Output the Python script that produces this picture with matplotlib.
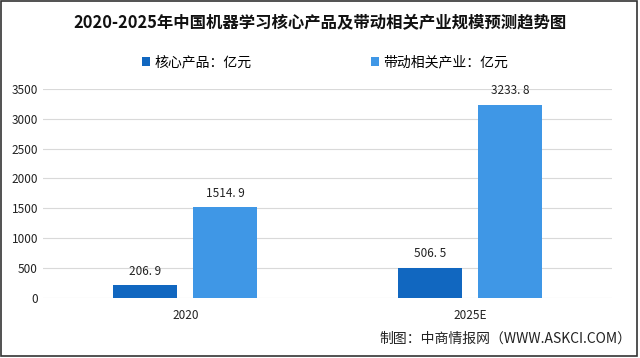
import numpy as np
import matplotlib.pyplot as plt
from matplotlib.patches import Rectangle

plt.rcParams['font.family'] = ['Noto Sans CJK SC', 'DejaVu Sans']

years = ["2020", "2025E"]
core_values = [206.9, 506.5]
related_values = [1514.9, 3233.8]
series_names = ["核心产品：亿元", "带动相关产业：亿元"]
y_ticks = [0, 500, 1000, 1500, 2000, 2500, 3000, 3500]

dark_blue = "#1167C0"
light_blue = "#3F97E6"

fig = plt.figure(figsize=(6.4, 3.58), dpi=100)
ax = fig.add_axes([0.067, 0.168, 0.89, 0.584])

x = np.arange(len(years))
width = 0.225
offset = 0.14

b1 = ax.bar(x - offset, core_values, width, color=dark_blue, label=series_names[0], zorder=3)
b2 = ax.bar(x + offset, related_values, width, color=light_blue, label=series_names[1], zorder=3)

for bars, vals in [(b1, core_values), (b2, related_values)]:
    for bar, v in zip(bars, vals):
        ax.text(bar.get_x() + bar.get_width() / 2, v + 130, f"{v:.1f}".replace(".", ". "),
                ha="center", va="bottom", fontsize=8.5, color="#222222")

ax.set_xlim(-0.5, 1.5)
ax.set_ylim(0, 3500)
ax.set_yticks(y_ticks)
ax.set_xticks(x)
ax.set_xticklabels(years)
ax.tick_params(axis="both", length=0, labelsize=8.5, colors="#222222")
ax.tick_params(axis="x", pad=8)
ax.grid(axis="y", color="#D9D9D9", linewidth=0.8, zorder=0)
for s in ax.spines.values():
    s.set_visible(False)

fig.text(0.5, 0.935, "2020-2025年中国机器学习核心产品及带动相关产业规模预测趋势图",
         ha="center", va="center", fontsize=11.8, fontweight="bold", color="#111111")

leg = fig.legend(handles=[b1, b2], loc="center", bbox_to_anchor=(0.508, 0.825), ncol=2,
                 frameon=False, fontsize=10, handlelength=0.6, handleheight=0.6,
                 handletextpad=0.3, columnspacing=8.6)

fig.text(0.986, 0.055, "制图：中商情报网（WWW.ASKCI.COM）", ha="right", va="center",
         fontsize=10, color="#222222")

fig.patches.append(Rectangle((0.002, 0.006), 0.993, 0.99, transform=fig.transFigure,
                             fill=False, edgecolor="#333333", linewidth=1.2))

fig.savefig("out.png", dpi=100)
